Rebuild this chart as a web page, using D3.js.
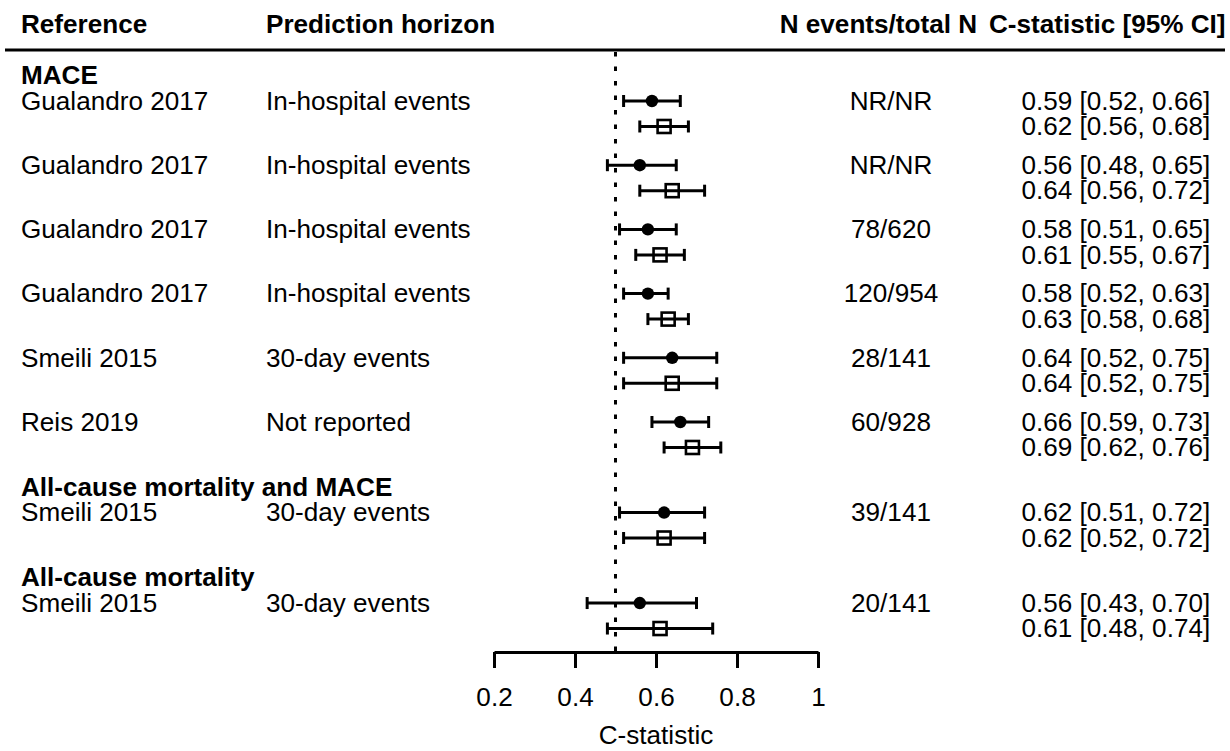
<!DOCTYPE html>
<html>
<head>
<meta charset="utf-8">
<script src="https://cdn.jsdelivr.net/npm/d3@7"></script>
<style>
  html, body { margin: 0; padding: 0; background: #fff; }
  svg { display: block; }
  text { font-family: "Liberation Sans", Arial, sans-serif; fill: #000; }
</style>
</head>
<body>
<svg id="chart" width="1230" height="751"></svg>
<script>
// Outcome groups and the studies within them
const groups = ["MACE", "All-cause mortality and MACE", "All-cause mortality"];
const studies = ["Gualandro 2017", "Gualandro 2017", "Gualandro 2017", "Gualandro 2017",
                 "Smeili 2015", "Reis 2019", "Smeili 2015", "Smeili 2015"];
const horizons = ["In-hospital events", "In-hospital events", "In-hospital events", "In-hospital events",
                  "30-day events", "Not reported", "30-day events", "30-day events"];
const studyGroup = [0, 0, 0, 0, 0, 0, 1, 2];
const events = ["NR/NR", "NR/NR", "78/620", "120/954", "28/141", "60/928", "39/141", "20/141"];

// First model (filled circles)
const estA = [0.59, 0.56, 0.58, 0.58, 0.64, 0.66, 0.62, 0.56];
const lowA = [0.52, 0.48, 0.51, 0.52, 0.52, 0.59, 0.51, 0.43];
const highA = [0.66, 0.65, 0.65, 0.63, 0.75, 0.73, 0.72, 0.70];

// Second model (open squares)
const estB = [0.62, 0.64, 0.61, 0.63, 0.64, 0.69, 0.62, 0.61];
const lowB = [0.56, 0.56, 0.55, 0.58, 0.52, 0.62, 0.52, 0.48];
const highB = [0.68, 0.72, 0.67, 0.68, 0.75, 0.76, 0.72, 0.74];

const xTicks = [0.2, 0.4, 0.6, 0.8, 1];
const nullValue = 0.5;
const headers = ["Reference", "Prediction horizon", "N events/total N", "C-statistic [95% CI]"];
const axisTitle = "C-statistic";

const svg = d3.select("#chart");
const FS = 25;      // font size
const SX = 1.045;   // slight horizontal widening of the glyphs

const x = d3.scaleLinear().domain([0.2, 1]).range([494, 818]);
// vertical position in "row slots": one slot per study, extra gap between groups
const y = d3.scaleLinear().domain([0, 1]).range([101, 165.2]);
const pairOffset = 0.397;
const groupGap = 0.41;
const labelOffset = 0.395;

// text helper: places a label at (px, py), vertically centred, widened by SX around its anchor
function label(sel, px, py) {
  return sel.attr("x", 0).attr("y", 0).attr("dy", "0.35em")
    .attr("transform", (d, i) => `translate(${typeof px === "function" ? px(d, i) : px},${typeof py === "function" ? py(d, i) : py}) scale(${SX},1)`);
}

const fmt = d3.format(".2f");
const rows = studies.map((s, i) => {
  const slot = i + studyGroup[i] * groupGap;
  return {
    study: s, horizon: horizons[i], events: events[i], group: studyGroup[i], slot,
    a: { est: estA[i], lo: lowA[i], hi: highA[i], yy: y(slot) },
    b: { est: estB[i], lo: lowB[i], hi: highB[i], yy: y(slot + pairOffset) }
  };
});

// Header
const colX = [21, 266, 977, 989];
const colAnchor = ["start", "start", "end", "start"];
label(svg.append("g").selectAll("text").data(headers).join("text"), (d, i) => colX[i], 24)
  .attr("text-anchor", (d, i) => colAnchor[i])
  .style("font-weight", "bold").style("font-size", FS + "px")
  .text(d => d);

svg.append("line").attr("x1", 5).attr("x2", 1225).attr("y1", 50).attr("y2", 50)
  .attr("stroke", "#000").attr("stroke-width", 2.8);

// Group labels
const firstSlot = groups.map((g, gi) => d3.min(rows.filter(r => r.group === gi), r => r.slot));
label(svg.append("g").selectAll("text").data(groups).join("text"), 21, (d, i) => y(firstSlot[i] - labelOffset))
  .style("font-weight", "bold").style("font-size", FS + "px")
  .text(d => d);

// Table text
const tbl = svg.append("g").style("font-size", FS + "px");
label(tbl.selectAll("text.study").data(rows).join("text").attr("class", "study"), 21, d => d.a.yy)
  .text(d => d.study);
label(tbl.selectAll("text.hor").data(rows).join("text").attr("class", "hor"), 266, d => d.a.yy)
  .text(d => d.horizon);
label(tbl.selectAll("text.ev").data(rows).join("text").attr("class", "ev"), 891, d => d.a.yy)
  .attr("text-anchor", "middle")
  .text(d => d.events);
const ciLines = rows.flatMap(r => [r.a, r.b]);
label(tbl.selectAll("text.ci").data(ciLines).join("text").attr("class", "ci"), 1021.5, d => d.yy)
  .text(d => `${fmt(d.est)} [${fmt(d.lo)}, ${fmt(d.hi)}]`);

// Reference line at C = 0.5
svg.append("line")
  .attr("x1", x(nullValue)).attr("x2", x(nullValue)).attr("y1", 52).attr("y2", 652)
  .attr("stroke", "#000").attr("stroke-width", 3).attr("stroke-dasharray", "4.5,10");

// Confidence intervals
const capH = 6;
const ci = svg.append("g").attr("stroke", "#000").attr("stroke-width", 3).attr("fill", "none");
ciLines.forEach(d => {
  ci.append("line").attr("x1", x(d.lo)).attr("x2", x(d.hi)).attr("y1", d.yy).attr("y2", d.yy);
  ci.append("line").attr("x1", x(d.lo)).attr("x2", x(d.lo)).attr("y1", d.yy - capH).attr("y2", d.yy + capH);
  ci.append("line").attr("x1", x(d.hi)).attr("x2", x(d.hi)).attr("y1", d.yy - capH).attr("y2", d.yy + capH);
});

// Point estimates
svg.append("g").selectAll("circle").data(rows).join("circle")
  .attr("cx", d => x(d.a.est)).attr("cy", d => d.a.yy).attr("r", 6.2).attr("fill", "#000");
const sq = 13;
svg.append("g").selectAll("rect").data(rows).join("rect")
  .attr("x", d => x(d.b.est) - sq / 2).attr("y", d => d.b.yy - sq / 2)
  .attr("width", sq).attr("height", sq)
  .attr("fill", "none").attr("stroke", "#000").attr("stroke-width", 2.6);

// Axis
const axis = svg.append("g").attr("transform", "translate(0,652)")
  .call(d3.axisBottom(x).tickValues(xTicks).tickSize(16).tickSizeOuter(0).tickPadding(20)
    .tickFormat(d => d === 1 ? "1" : d3.format(".1f")(d)));
axis.select(".domain").attr("stroke-width", 3);
axis.selectAll(".tick line").attr("stroke-width", 3);
axis.selectAll(".tick text").style("font-size", FS + "px")
  .style("font-family", "'Liberation Sans', Arial, sans-serif").attr("fill", "#000")
  .attr("transform", `scale(${SX},1)`);

label(svg.append("text"), (x(0.2) + x(1)) / 2, 735.5)
  .attr("text-anchor", "middle").style("font-size", FS + "px").text(axisTitle);
</script>
</body>
</html>
